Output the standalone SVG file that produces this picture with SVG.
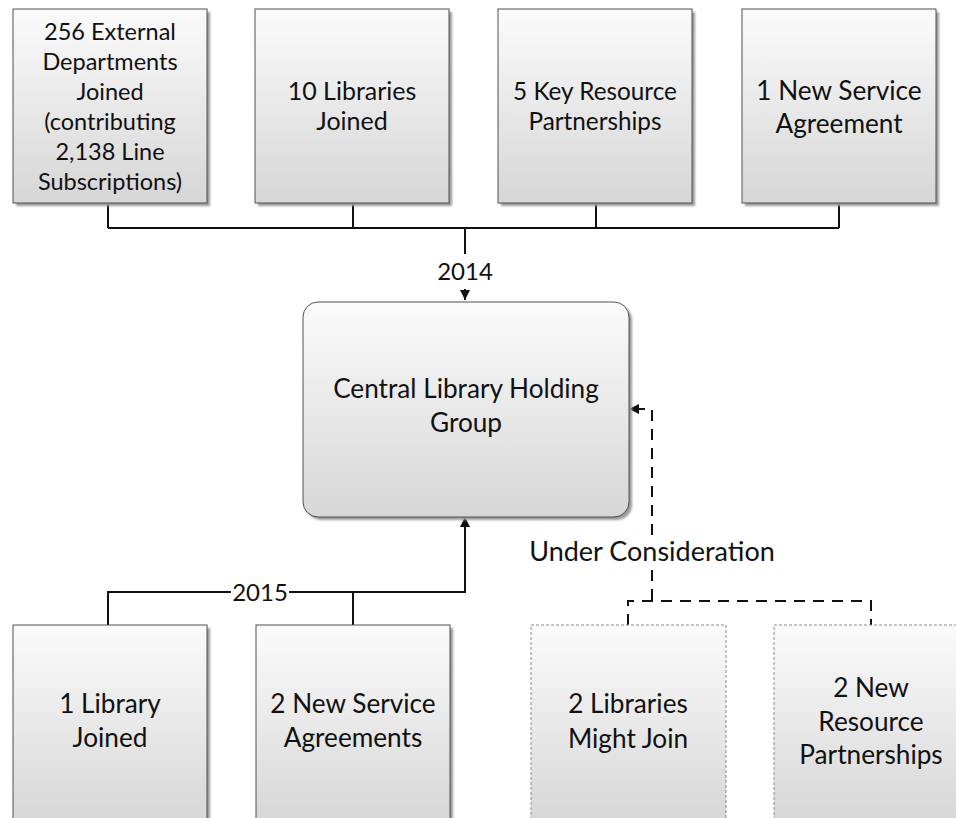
<svg xmlns="http://www.w3.org/2000/svg" width="956" height="818" viewBox="0 0 956 818">
<style>
.box{fill:url(#g);stroke:#505050;stroke-width:1}
.dbox{fill:url(#g);stroke:#8a8a8a;stroke-width:1;stroke-dasharray:3,2}
.sh{fill:#9a9a9a;filter:url(#blur)}
text{font-family:Lato,"Liberation Sans",sans-serif;fill:#111;text-anchor:middle}
.t1{font-size:23.5px}.t25{font-size:25px}.t24{font-size:24.3px}.t26{font-size:26.2px}.d4{font-size:24px}.lab2{font-size:27px}
.ln{fill:none;stroke:#111;stroke-width:2}
.dl{fill:none;stroke:#111;stroke-width:2;stroke-dasharray:11,8}
</style>
<defs>
<linearGradient id="g" x1="0" y1="0" x2="0" y2="1">
<stop offset="0" stop-color="#fbfbfb"/>
<stop offset="1" stop-color="#d6d6d6"/>
</linearGradient>
<filter id="blur" x="-10%" y="-10%" width="120%" height="120%"><feGaussianBlur stdDeviation="1.2"/></filter>
<marker id="ah" viewBox="0 0 10 10" refX="10" refY="5" markerWidth="10" markerHeight="10" markerUnits="userSpaceOnUse" orient="auto">
<path d="M0,0 L10,5 L0,10 z" fill="#111"/>
</marker>
</defs>
<rect width="956" height="818" fill="#fff"/>

<g id="connectors">
<path class="ln" d="M108,203 V228 M353,203 V228 M596,203 V228 M839,203 V228 M108,228 H839 M465,228 V254"/>
<path class="ln" d="M465,289 V300" marker-end="url(#ah)"/>
<path class="ln" d="M108,625 V592 H231 M289,592 H465 V527 M353,592 V625"/>
<path class="ln" d="M465,528 V517" marker-end="url(#ah)"/>
<path class="dl" d="M652,535 V409 H640"/>
<path class="ln" d="M640,409 H629" marker-end="url(#ah)"/>
<path class="dl" d="M652,570 V601 M628,625 V601 H871 V625"/>
<text class="d4" x="465" y="280">2014</text>
<text class="d4" x="260" y="601">2015</text>
<text class="lab2" x="652" y="561">Under Consideration</text>
</g>

<g id="n1">
<rect class="sh" x="16" y="12" width="194" height="194"/>
<rect class="box" x="13" y="9" width="194" height="194"/>
<text class="t1"><tspan x="110" y="40">256 External</tspan><tspan x="110" y="70">Departments</tspan><tspan x="110" y="100">Joined</tspan><tspan x="110" y="130">(contributing</tspan><tspan x="110" y="160">2,138 Line</tspan><tspan x="110" y="190">Subscriptions)</tspan></text>
</g>
<g id="n2">
<rect class="sh" x="258" y="12" width="194" height="194"/>
<rect class="box" x="255" y="9" width="194" height="194"/>
<text class="t25"><tspan x="352" y="100">10 Libraries</tspan><tspan x="352" y="130">Joined</tspan></text>
</g>
<g id="n3">
<rect class="sh" x="501" y="12" width="194" height="194"/>
<rect class="box" x="498" y="9" width="194" height="194"/>
<text class="t24"><tspan x="595" y="100">5 Key Resource</tspan><tspan x="595" y="130">Partnerships</tspan></text>
</g>
<g id="n4">
<rect class="sh" x="745" y="12" width="194" height="194"/>
<rect class="box" x="742" y="9" width="194" height="194"/>
<text class="t26"><tspan x="839" y="100">1 New Service</tspan><tspan x="839" y="133">Agreement</tspan></text>
</g>
<g id="central">
<rect class="sh" x="306" y="305" width="326" height="215" rx="15"/>
<rect class="box" x="303" y="302" width="326" height="215" rx="15"/>
<text class="t26"><tspan x="466" y="398">Central Library Holding</tspan><tspan x="466" y="432">Group</tspan></text>
</g>
<g id="n5">
<rect class="sh" x="16" y="628" width="194" height="200"/>
<rect class="box" x="13" y="625" width="194" height="200"/>
<text class="t26"><tspan x="110" y="713">1 Library</tspan><tspan x="110" y="747">Joined</tspan></text>
</g>
<g id="n6">
<rect class="sh" x="259" y="628" width="194" height="200"/>
<rect class="box" x="256" y="625" width="194" height="200"/>
<text class="t26"><tspan x="353" y="713">2 New Service</tspan><tspan x="353" y="747">Agreements</tspan></text>
</g>
<g id="n7">
<rect class="dbox" x="531" y="625" width="195" height="200"/>
<text class="t26"><tspan x="628" y="713">2 Libraries</tspan><tspan x="628" y="748">Might Join</tspan></text>
</g>
<g id="n8">
<rect class="dbox" x="774" y="625" width="195" height="200"/>
<text class="t26"><tspan x="871" y="697">2 New</tspan><tspan x="871" y="731">Resource</tspan><tspan x="871" y="764">Partnerships</tspan></text>
</g>
</svg>
